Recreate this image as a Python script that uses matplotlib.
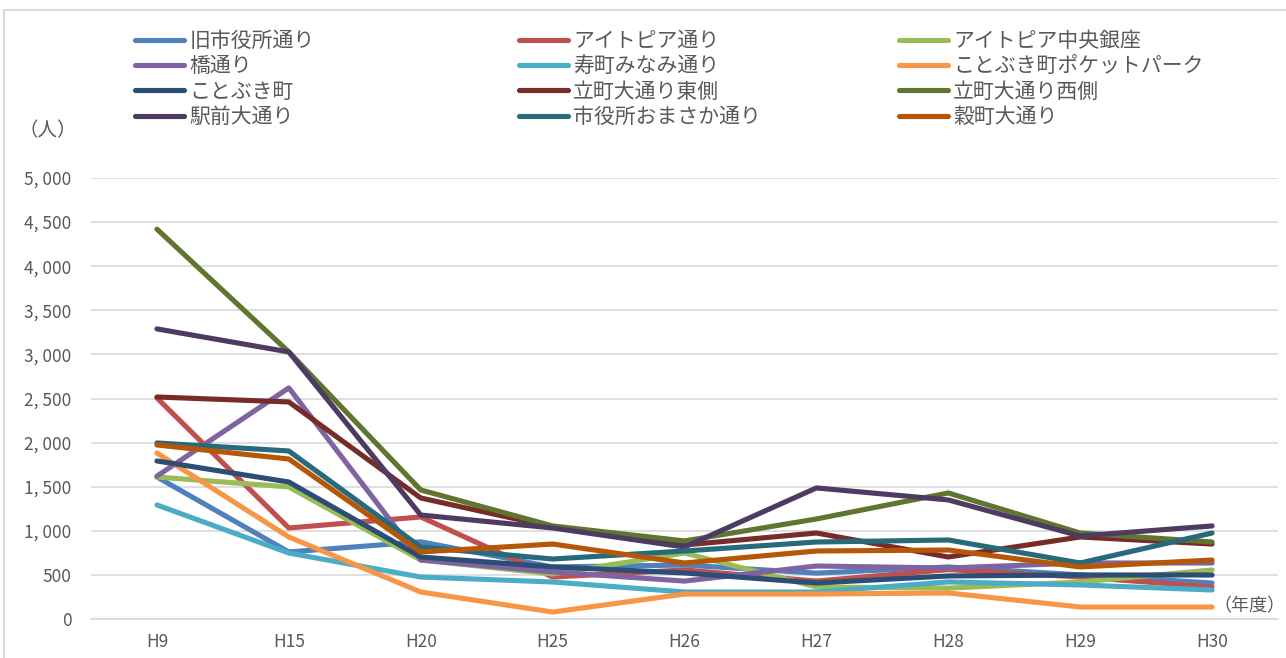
import matplotlib

matplotlib.use("Agg")

import matplotlib.pyplot as plt
from matplotlib.lines import Line2D
from matplotlib.ticker import FuncFormatter

plt.rcParams["font.family"] = ["Noto Sans CJK JP", "DejaVu Sans"]

YEARS = ["H9", "H15", "H20", "H25", "H26", "H27", "H28", "H29", "H30"]

NAMES = [
    "旧市役所通り", "アイトピア通り", "アイトピア中央銀座",
    "橋通り", "寿町みなみ通り", "ことぶき町ポケットパーク",
    "ことぶき町", "立町大通り東側", "立町大通り西側",
    "駅前大通り", "市役所おまさか通り", "穀町大通り",
]

kyu_shiyakusho = [1610, 760, 875, 590, 612, 520, 590, 500, 408]
aitopia = [2506, 1032, 1157, 476, 556, 430, 560, 476, 363]
aitopia_chuo = [1610, 1497, 669, 510, 748, 363, 350, 420, 556]
hashi = [1620, 2620, 669, 533, 430, 601, 578, 635, 635]
kotobuki_minami = [1293, 748, 476, 420, 306, 306, 420, 386, 329]
kotobuki_pocket = [1882, 930, 306, 79, 283, 283, 295, 136, 136]
kotobuki = [1792, 1553, 703, 590, 522, 408, 488, 499, 499]
tatemachi_east = [2517, 2461, 1372, 1043, 839, 975, 703, 930, 850]
tatemachi_west = [4420, 3028, 1463, 1055, 885, 1134, 1429, 975, 873]
ekimae = [3289, 3028, 1179, 1032, 816, 1486, 1350, 941, 1055]
omasaka = [1996, 1905, 816, 680, 771, 873, 896, 635, 975]
kokumachi = [1973, 1814, 760, 850, 635, 771, 782, 590, 669]

SERIES = [
    kyu_shiyakusho, aitopia, aitopia_chuo,
    hashi, kotobuki_minami, kotobuki_pocket,
    kotobuki, tatemachi_east, tatemachi_west,
    ekimae, omasaka, kokumachi,
]

COLORS = [
    "#4F81BD", "#C0504D", "#9BBB59",
    "#8064A2", "#4BACC6", "#F79646",
    "#2C4D75", "#772C2A", "#5F7530",
    "#4D3B62", "#276A7C", "#B65708",
]

TEXT_COLOR = "#595959"
GRID_COLOR = "#D9D9D9"

W, H = 1286, 658
fig = plt.figure(figsize=(W / 100, H / 100), dpi=100)
ax = fig.add_axes([91 / W, (H - 619) / H, (1278 - 91) / W, (619 - 178) / H])

x = list(range(len(YEARS)))
handles = []
for name, vals, color in zip(NAMES, SERIES, COLORS):
    (line,) = ax.plot(
        x, vals, color=color, linewidth=3.7,
        solid_capstyle="round", solid_joinstyle="round", label=name,
    )
    handles.append(line)

ax.set_xlim(-0.5, len(YEARS) - 0.5)
ax.set_ylim(0, 5000)
ax.set_yticks(range(0, 5001, 500))
ax.yaxis.set_major_formatter(FuncFormatter(lambda v, _: f"{v:,.0f}".replace(",", ", ")))
ax.set_xticks(x)
ax.set_xticklabels(YEARS)
ax.tick_params(axis="both", length=0, labelsize=12.5, colors=TEXT_COLOR)
ax.tick_params(axis="y", pad=14)
ax.tick_params(axis="x", pad=10)
ax.grid(axis="y", color=GRID_COLOR, linewidth=1.2)
ax.set_axisbelow(True)
for side in ("top", "right", "left"):
    ax.spines[side].set_visible(False)
ax.spines["bottom"].set_color(GRID_COLOR)
ax.spines["bottom"].set_linewidth(1.2)

fig.text(18 / W, 1 - 131 / H, "（人）", fontsize=14, color=TEXT_COLOR, va="center")
fig.text(1213 / W, 1 - 606 / H, "（年度）", fontsize=13, color=TEXT_COLOR, va="center")

# 凡例は3列を個別に配置（Excel風の行優先の並び）
col_x = [135, 519, 899]
for c, cx in enumerate(col_x):
    col_handles = [handles[i] for i in range(c, len(handles), 3)]
    fig.legend(
        handles=col_handles, loc="upper left", bbox_to_anchor=(cx / W, 1 - 30 / H),
        frameon=False, ncol=1, fontsize=15, labelcolor=TEXT_COLOR,
        handlelength=2.35, handletextpad=0.26, labelspacing=0.16, borderpad=0,
        borderaxespad=0,
    )

# グラフエリアの枠線（上と左）
fig.add_artist(Line2D([4 / W, 4 / W], [0, 1 - 10 / H], color=GRID_COLOR, linewidth=1.5))
fig.add_artist(Line2D([4 / W, 1], [1 - 10 / H, 1 - 10 / H], color=GRID_COLOR, linewidth=1.5))

fig.savefig("out.png", dpi=100)
plt.close(fig)
